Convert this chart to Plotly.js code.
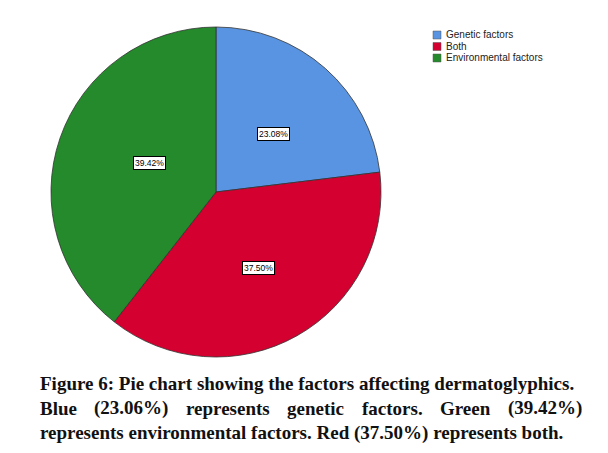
<!DOCTYPE html>
<html><head><meta charset="utf-8">
<script src="https://cdn.plot.ly/plotly-3.0.1.min.js"></script>
<style>html,body{margin:0;padding:0;background:#fff}#chart{width:608px;height:453px}</style>
</head><body><div id="chart"></div>
<script>
const categories = ["Genetic factors", "Both", "Environmental factors"];
const values = [23.08, 37.50, 39.42];
const colors = ["#5894e2", "#d4002f", "#248a2b"];
const captionLines = [
  "Figure 6: Pie chart showing the factors affecting dermatoglyphics.",
  "Blue (23.06%) represents genetic factors. Green (39.42%)",
  "represents environmental factors. Red (37.50%) represents both."
];

const W = 608, H = 453;
const cx = 216, cy = 192, R = 165;
const dom = {x: [(cx - R) / W, (cx + R) / W], y: [1 - (cy + R) / H, 1 - (cy - R) / H]};

const annotations = [];
const shapes = [];

// slice labels placed along each slice's mid angle
const total = values.reduce((a, b) => a + b, 0);
let cum = 0;
values.forEach((v, i) => {
  const mid = (cum + v / 2) / total * 2 * Math.PI;
  cum += v;
  const r = 0.53 * R;
  const px = cx + r * Math.sin(mid), py = cy - r * Math.cos(mid);
  annotations.push({
    xref: "paper", yref: "paper", x: px / W, y: 1 - py / H,
    text: v.toFixed(2) + "%", showarrow: false,
    font: {family: "Liberation Sans, Arial", size: 8.5, color: "#000"},
    bgcolor: "#fff", bordercolor: "#000", borderwidth: 1, borderpad: 1
  });
});

// legend
categories.forEach((c, i) => {
  const y0 = 31 + i * 11.5;
  shapes.push({type: "rect", xref: "paper", yref: "paper",
    x0: 433 / W, x1: 441 / W, y0: 1 - (y0 + 8) / H, y1: 1 - y0 / H,
    fillcolor: colors[i], line: {color: "#555", width: 0.5}});
  annotations.push({xref: "paper", yref: "paper", x: 444 / W, y: 1 - (y0 + 4) / H,
    xanchor: "left", yanchor: "middle", text: c, showarrow: false,
    font: {family: "Liberation Sans, Arial", size: 10, color: "#222"}});
});

// caption (justified lines)
const capFont = "Liberation Serif";
const cnv = document.createElement("canvas").getContext("2d");
function tw(t, s) { cnv.font = "bold " + s + "px '" + capFont + "'"; return cnv.measureText(t).width; }
const left = 38, right = 580;
const fs = Math.min(19, 18 * (right - left) / tw(captionLines[0], 18));
const baselines = [389, 414, 439];
captionLines.forEach((line, li) => {
  const ycen = 1 - (baselines[li] - fs * 0.3) / H;
  if (li === 1) {
    const words = line.split(" ");
    const widths = words.map(w => tw(w, fs));
    const sum = widths.reduce((a, b) => a + b, 0);
    const gap = (right - left - sum) / (words.length - 1);
    let x = left;
    words.forEach((w, k) => {
      annotations.push({xref: "paper", yref: "paper", x: x / W, y: ycen, xanchor: "left", yanchor: "middle",
        text: "<b>" + w + "</b>", showarrow: false, font: {family: capFont, size: fs, color: "#111"}});
      x += widths[k] + gap;
    });
  } else {
    annotations.push({xref: "paper", yref: "paper", x: left / W, y: ycen, xanchor: "left", yanchor: "middle",
      text: "<b>" + line + "</b>", showarrow: false, font: {family: capFont, size: fs, color: "#111"}});
  }
});

const data = [{
  type: "pie", labels: categories, values: values, sort: false, direction: "clockwise",
  rotation: 0, textinfo: "none", hoverinfo: "label+percent",
  marker: {colors: colors, line: {color: "#333", width: 0.8}},
  domain: dom, showlegend: false
}];

Plotly.newPlot("chart", data, {
  width: W, height: H, margin: {l: 0, r: 0, t: 0, b: 0},
  paper_bgcolor: "#fff", showlegend: false,
  annotations: annotations, shapes: shapes
}, {displayModeBar: false, staticPlot: true});
</script></body></html>
